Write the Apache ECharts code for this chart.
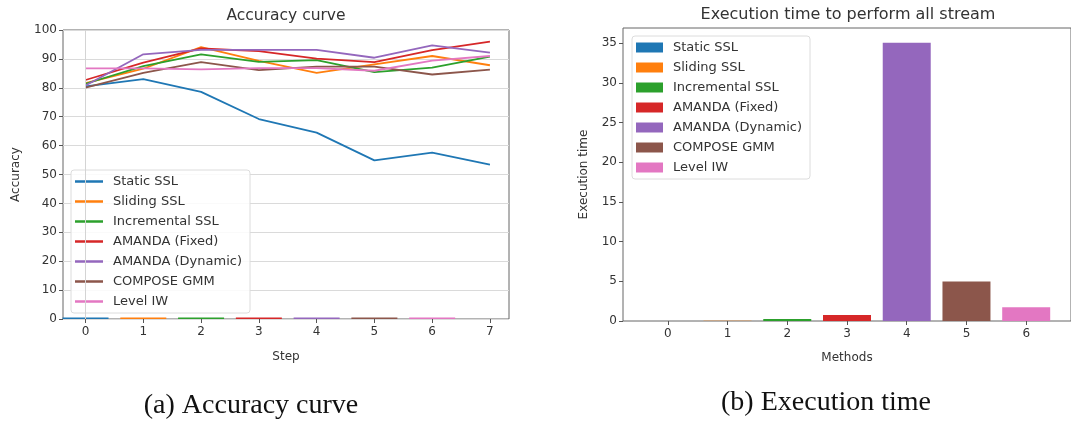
<!DOCTYPE html>
<html><head><meta charset="utf-8">
<script src="https://cdn.jsdelivr.net/npm/echarts@6/dist/echarts.min.js"></script>
<style>html,body{margin:0;padding:0;background:#fff}#c{width:1071px;height:422px}</style>
</head><body><div id="c"></div>
<script>
const methods = ['Static SSL','Sliding SSL','Incremental SSL','AMANDA (Fixed)','AMANDA (Dynamic)','COMPOSE GMM','Level IW'];
const colors = ['#1f77b4','#ff7f0e','#2ca02c','#d62728','#9467bd','#8c564b','#e377c2'];
const steps = [0,1,2,3,4,5,6,7];
const staticSSL      = [80.5, 83.0, 78.6, 69.2, 64.5, 54.9, 57.6, 53.4];
const slidingSSL     = [81.6, 86.6, 94.1, 89.3, 85.2, 88.1, 91.0, 87.8];
const incrementalSSL = [81.4, 87.5, 91.6, 89.0, 89.6, 85.4, 87.0, 90.8];
const amandaFixed    = [82.7, 88.7, 93.6, 92.7, 90.1, 88.9, 93.0, 96.0];
const amandaDynamic  = [80.8, 91.6, 93.1, 93.1, 93.1, 90.4, 94.7, 92.2];
const composeGMM     = [80.1, 85.2, 88.9, 86.1, 87.3, 87.3, 84.6, 86.3];
const levelIW        = [86.7, 86.7, 86.4, 86.8, 86.8, 85.9, 89.4, 91.0];
const accuracySeries = [staticSSL, slidingSSL, incrementalSSL, amandaFixed, amandaDynamic, composeGMM, levelIW];
const zeroMarks = [0.5, 0.5, 0.5, 0.5, 0.5, 0.5, 0.5];
const methodIdx = [0,1,2,3,4,5,6];
const execTime = [0.01, 0.02, 0.25, 0.75, 35.05, 4.97, 1.73];
const accTicks = [0,10,20,30,40,50,60,70,80,90,100];
const execTicks = [0,5,10,15,20,25,30,35];

const FONT = 'DejaVu Sans';
const TXT = '#333';
const chart = echarts.init(document.getElementById('c'), null, {renderer:'canvas'});

const series = [];
accuracySeries.forEach((arr, k) => {
  series.push({
    name: methods[k], type:'line', xAxisIndex:0, yAxisIndex:0,
    data: steps.map((s,i)=>[s, arr[i]]),
    symbol:'none', showSymbol:false, z: 3,
    lineStyle:{width:1.8, color: colors[k]}, itemStyle:{color: colors[k]},
    emphasis:{disabled:true}, animation:false
  });
});
series.push({
  name:'_zero', type:'bar', xAxisIndex:0, yAxisIndex:0, barWidth:46, z:2,
  data: methodIdx.map(i => ({value:[i, zeroMarks[i]], itemStyle:{color: colors[i]}})),
  markLine:{silent:true, symbol:'none', label:{show:false}, lineStyle:{color:'#d4d4d4', type:'solid', width:1},
    data:[{xAxis:0}]},
  animation:false
});
methodIdx.forEach(i => {
  series.push({
    name: methods[i], type:'bar', xAxisIndex:1, yAxisIndex:1, barWidth:48, barGap:'-100%',
    data: [[i, execTime[i]]], itemStyle:{color: colors[i]}, animation:false
  });
});

const axisCommon = {
  axisLine:{show:false, onZero:false},
  nameTextStyle:{color:TXT, fontFamily:FONT, fontSize:12}
};
const tick = vals => ({show:true, length:4, lineStyle:{color:'#555'}, customValues: vals});
const lab = (vals, m) => ({color:TXT, fontFamily:FONT, fontSize:12, margin:m, customValues: vals});

chart.setOption({
  animation:false,
  grid:[
    {left:63, top:30, width:446, height:289, show:true, borderColor:'#666', borderWidth:1, backgroundColor:'transparent'},
    {left:623, top:28, width:451, height:293, show:true, borderColor:'#666', borderWidth:1, backgroundColor:'transparent'}
  ],
  xAxis:[
    Object.assign({}, axisCommon, {gridIndex:0, type:'value', min:-0.39, max:7.33, name:'Step', nameLocation:'middle', nameGap:32,
      splitLine:{show:false}, axisTick:tick(steps), axisLabel:lab(steps, 7)}),
    Object.assign({}, axisCommon, {gridIndex:1, type:'value', min:-0.75, max:6.75, name:'Methods', nameLocation:'middle', nameGap:31,
      splitLine:{show:false}, axisTick:tick(methodIdx), axisLabel:lab(methodIdx, 7)})
  ],
  yAxis:[
    Object.assign({}, axisCommon, {gridIndex:0, type:'value', min:0, max:100, interval:10, name:'Accuracy', nameLocation:'middle', nameGap:41,
      splitLine:{show:true, lineStyle:{color:'#dadada', width:1}}, axisTick:tick(accTicks), axisLabel:lab(accTicks, 6)}),
    Object.assign({}, axisCommon, {gridIndex:1, type:'value', min:0, max:36.9, name:'Execution time', nameLocation:'middle', nameGap:33,
      splitLine:{show:false}, axisTick:tick(execTicks), axisLabel:lab(execTicks, 6)})
  ],
  legend:[
    {data:methods, orient:'vertical', left:71, top:170, icon:'rect', itemWidth:28, itemHeight:2.5, itemGap:7,
      padding:[5,8,5,4], backgroundColor:'rgba(255,255,255,0.85)', borderColor:'#dcdcdc', borderWidth:1, borderRadius:3,
      textStyle:{color:TXT, fontFamily:FONT, fontSize:13, padding:[0,0,0,5]}, selectedMode:false},
    {data:methods, orient:'vertical', left:632, top:36, icon:'rect', itemWidth:27, itemHeight:10, itemGap:7,
      padding:[5,8,5,4], backgroundColor:'rgba(255,255,255,0.85)', borderColor:'#dcdcdc', borderWidth:1, borderRadius:3,
      textStyle:{color:TXT, fontFamily:FONT, fontSize:13, padding:[0,0,0,5]}, selectedMode:false}
  ],
  graphic:[
    {type:'text', x:286, y:16, style:{text:'Accuracy curve', textAlign:'center', textVerticalAlign:'middle', fill:TXT, font:'15.5px "DejaVu Sans"'}},
    {type:'text', x:848, y:15, style:{text:'Execution time to perform all stream', textAlign:'center', textVerticalAlign:'middle', fill:TXT, font:'16px "DejaVu Sans"'}},
    {type:'text', x:251, y:406, style:{text:'(a) Accuracy curve', textAlign:'center', textVerticalAlign:'middle', fill:'#111', font:'28px "Liberation Serif"'}},
    {type:'text', x:826, y:403, style:{text:'(b) Execution time', textAlign:'center', textVerticalAlign:'middle', fill:'#111', font:'28px "Liberation Serif"'}}
  ],
  series: series
});
</script></body></html>
